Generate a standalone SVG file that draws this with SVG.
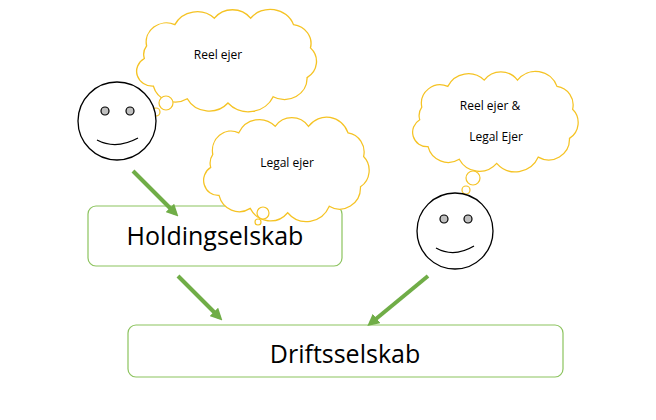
<svg xmlns="http://www.w3.org/2000/svg" width="656" height="420" viewBox="0 0 656 420">
<style>
.cl{fill:#fff;stroke:#f5c324;stroke-width:1.2}
.face{fill:#fff;stroke:#000;stroke-width:1.3}
.eye{fill:#bfbfbf;stroke:#000;stroke-width:1.2}
.box{fill:#fff;stroke:#8cc35e;stroke-width:1.2}
.t{font-family:"Open Sans","Liberation Sans",sans-serif;fill:#000;text-anchor:middle}
.ar{stroke:#70ad47;stroke-width:4;fill:none;marker-end:url(#ah)}
</style>
<defs>
<marker id="ah" viewBox="0 0 10 10" refX="6" refY="5" markerWidth="3" markerHeight="3" orient="auto" markerUnits="strokeWidth"><path d="M0,0L10,5L0,10z" fill="#70ad47"/></marker>
<path id="cloud" d="M20,30 a18,18 0 0 1 25,-20 a22,22 0 0 1 35,-6 a20,20 0 0 1 32,0 a22,22 0 0 1 38,6 a18,18 0 0 1 15,22 a18,18 0 0 1 -3,28 a20,20 0 0 1 -30,18 a24,24 0 0 1 -40,6 a22,22 0 0 1 -36,-4 a20,20 0 0 1 -30,-12 a14,14 0 0 1 -8,-26 a14,14 0 0 1 2,-12 z"/>
</defs>
<rect width="656" height="420" fill="#fff"/>
<g id="holding"><rect class="box" x="88" y="206" width="254" height="60" rx="8"/><text class="t" x="215" y="245" font-size="25">Holdingselskab</text></g>
<g id="drift"><rect class="box" x="128" y="325" width="435" height="52" rx="8"/><text class="t" x="345" y="363" font-size="25">Driftsselskab</text></g>
<g id="connectors">
<line class="ar" x1="133" y1="171" x2="175" y2="213"/>
<line class="ar" x1="178" y1="276" x2="219" y2="317"/>
<line class="ar" x1="428" y1="276" x2="371" y2="323"/>
</g>
<g id="cloud1"><use href="#cloud" class="cl" transform="translate(124,14) scale(1.13,1.06)"/>
<circle class="cl" cx="166" cy="103" r="7"/><circle class="cl" cx="156" cy="112" r="4"/><circle class="cl" cx="149" cy="115" r="2"/>
<text class="t" x="218" y="59" font-size="12">Reel ejer</text></g>
<g id="cloud2"><use href="#cloud" class="cl" transform="translate(192,122) scale(1.04,1.08)"/>
<circle class="cl" cx="263" cy="213" r="6"/><circle class="cl" cx="258" cy="222" r="3"/>
<text class="t" x="287" y="167" font-size="12">Legal ejer</text></g>
<g id="cloud3"><use href="#cloud" class="cl" transform="translate(401,76) scale(1.04,1.04)"/>
<circle class="cl" cx="473" cy="178" r="7"/><circle class="cl" cx="466" cy="190" r="4"/><circle class="cl" cx="463" cy="197" r="2"/>
<text class="t" x="490" y="110" font-size="12">Reel ejer &amp;</text><text class="t" x="496" y="141" font-size="12">Legal Ejer</text></g>
<g id="face1"><circle class="face" cx="117" cy="121" r="39"/><circle class="eye" cx="105" cy="111" r="4"/><circle class="eye" cx="130" cy="111" r="4"/><path d="M97,140 Q116,150 138,138" fill="none" stroke="#000" stroke-width="1.3"/></g>
<g id="face2"><circle class="face" cx="455" cy="231" r="38"/><circle class="eye" cx="444" cy="219" r="4"/><circle class="eye" cx="468" cy="219" r="4"/><path d="M436,248 Q454,258 474,246" fill="none" stroke="#000" stroke-width="1.3"/></g>
</svg>
